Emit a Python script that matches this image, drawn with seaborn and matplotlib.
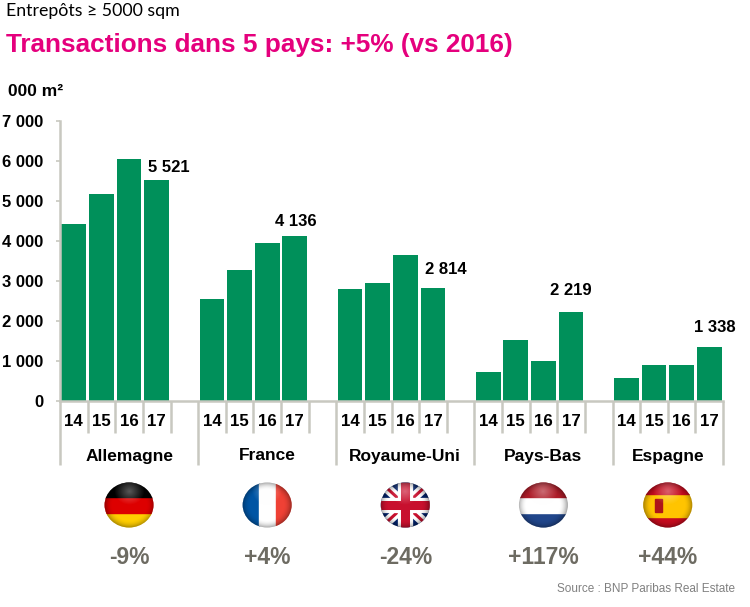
import matplotlib
matplotlib.use("Agg")
import numpy as np
import pandas as pd
import seaborn as sns
import matplotlib.pyplot as plt
from matplotlib.patches import Rectangle, Ellipse

# ---------------- data ----------------
countries = ["Allemagne", "France", "Royaume-Uni", "Pays-Bas", "Espagne"]
years = ["14", "15", "16", "17"]
allemagne = [4420, 5170, 6050, 5521]
france = [2560, 3270, 3940, 4136]
royaume_uni = [2800, 2940, 3660, 2814]
pays_bas = [720, 1530, 990, 2219]
espagne = [580, 890, 890, 1338]
value_labels = ["5 521", "4 136", "2 814", "2 219", "1 338"]
changes = ["-9%", "+4%", "-24%", "+117%", "+44%"]
ytick_values = [0, 1000, 2000, 3000, 4000, 5000, 6000, 7000]

series = [allemagne, france, royaume_uni, pays_bas, espagne]

# ---------------- style ----------------
GREEN = "#00905A"
GREY_LINE = "#C8C8C0"
PINK = "#E5007D"
PCT_GREY = "#6D6B62"

sns.set_theme(style="white")
plt.rcParams['font.family'] = ['Liberation Sans', 'DejaVu Sans']

W, H = 750, 607
fig = plt.figure(figsize=(W / 100, H / 100), dpi=100)
fig.patch.set_facecolor("white")

def fy(py):
    return 1 - py / H

ax = fig.add_axes([60 / W, 1 - 401 / H, (723 - 60) / W, 280 / H])

rows = []
for gi, (c, vals) in enumerate(zip(countries, series)):
    for yi, (yr, v) in enumerate(zip(years, vals)):
        rows.append({"country": c, "year": yr, "value": v, "pos": gi * 5 + yi})
df = pd.DataFrame(rows)

sns.barplot(data=df, x="pos", y="value", native_scale=True, width=0.9,
            color=GREEN, saturation=1, errorbar=None, edgecolor="none",
            linewidth=0, ax=ax)

ax.set_xlim(-0.5, 23.5)
ax.set_ylim(0, 7000)
ax.set_xticks([])
ax.set_yticks(ytick_values)
ax.set_yticklabels([f"{v:,}".replace(",", " ") for v in ytick_values])
ax.tick_params(axis="y", labelsize=12, length=3, width=1.2, color=GREY_LINE,
               pad=9, left=True, labelcolor="black")
for lbl in ax.get_yticklabels():
    lbl.set_fontweight("bold")
ax.set_xlabel("")
ax.set_ylabel("")
for s in ["top", "right"]:
    ax.spines[s].set_visible(False)
for s in ["left", "bottom"]:
    ax.spines[s].set_color(GREY_LINE)
    ax.spines[s].set_linewidth(1.8)

xt = ax.get_xaxis_transform()
SHORT = -32 / 280
LONG = -64 / 280

# group spans
spans = []
for gi in range(len(countries)):
    left = gi * 5 - 0.5
    right = min(gi * 5 + 4.5, 23.5)
    spans.append((left, right))
bounds = sorted(set([b for s in spans for b in s]))

for k in range(25):
    xb = k - 0.5
    yb = LONG if xb in bounds else SHORT
    ax.plot([xb, xb], [0, yb], transform=xt, color=GREY_LINE, lw=1.8,
            clip_on=False, solid_capstyle="butt")

# year labels
for _, r in df.iterrows():
    ax.text(r["pos"], -21 / 280, r["year"], transform=xt, ha="center",
            va="center", fontsize=12.2, fontweight="bold", color="black")

# group labels
centers = [(l + r) / 2 for l, r in spans]
for c, cx in zip(countries, centers):
    ax.text(cx, -55 / 280, c, transform=xt, ha="center", va="center",
            fontsize=12.5, fontweight="bold", color="black")

# value labels on last bar
label_offsets = [(12, 13), (1, 14), (13, 19), (0, 22), (6, 20)]
for gi, (vals, txt) in enumerate(zip(series, value_labels)):
    ax.annotate(txt, xy=(gi * 5 + 3, vals[-1]), xytext=label_offsets[gi],
                textcoords="offset pixels", ha="center", va="center",
                fontsize=12, fontweight="bold", color="black",
                annotation_clip=False)

# percent labels
for cx, t in zip(centers, changes):
    ax.text(cx, -156 / 280, t, transform=xt, ha="center", va="center",
            fontsize=16.5, fontweight="bold", color=PCT_GREY,
            family=["Liberation Sans Narrow", "Liberation Sans", "DejaVu Sans"])

# ---------------- flags ----------------
def to_px(cx):
    return 60 + (cx + 0.5) * (663 / 24)

def draw_flag(name, cxp, cyp, w=50, h=46):
    fa = fig.add_axes([(cxp - w / 2) / W, 1 - (cyp + h / 2) / H, w / W, h / H])
    fa.set_xlim(0, 1)
    fa.set_ylim(0, 1)
    fa.axis("off")
    clip = Ellipse((0.5, 0.5), 0.98, 0.98, transform=fa.transData)
    arts = []
    if name == "Allemagne":
        for i, col in enumerate(["#FFCE00", "#DD0000", "#000000"]):
            arts.append(fa.add_patch(Rectangle((0, i / 3), 1, 1 / 3, color=col)))
    elif name == "France":
        for i, col in enumerate(["#0055A4", "#FFFFFF", "#EF4135"]):
            arts.append(fa.add_patch(Rectangle((i / 3, 0), 1 / 3, 1, color=col)))
    elif name == "Pays-Bas":
        for i, col in enumerate(["#21468B", "#FFFFFF", "#AE1C28"]):
            arts.append(fa.add_patch(Rectangle((0, i / 3), 1, 1 / 3, color=col)))
    elif name == "Espagne":
        arts.append(fa.add_patch(Rectangle((0, 0), 1, 0.25, color="#C60B1E")))
        arts.append(fa.add_patch(Rectangle((0, 0.25), 1, 0.5, color="#FFC400")))
        arts.append(fa.add_patch(Rectangle((0, 0.75), 1, 0.25, color="#C60B1E")))
        arts.append(fa.add_patch(Rectangle((0.24, 0.35), 0.14, 0.28, color="#AD1519")))
    else:
        arts.append(fa.add_patch(Rectangle((0, 0), 1, 1, color="#012169")))
        for (x0, y0, x1, y1) in [(0, 0, 1, 1), (0, 1, 1, 0)]:
            arts += fa.plot([x0, x1], [y0, y1], color="white", lw=7, solid_capstyle="butt")
            arts += fa.plot([x0, x1], [y0, y1], color="#C8102E", lw=2.2, solid_capstyle="butt")
        arts += fa.plot([0.5, 0.5], [0, 1], color="white", lw=11, solid_capstyle="butt")
        arts += fa.plot([0, 1], [0.5, 0.5], color="white", lw=11, solid_capstyle="butt")
        arts += fa.plot([0.5, 0.5], [0, 1], color="#C8102E", lw=6.5, solid_capstyle="butt")
        arts += fa.plot([0, 1], [0.5, 0.5], color="#C8102E", lw=6.5, solid_capstyle="butt")
    # glossy shading
    n = 80
    gx, gy = np.meshgrid(np.linspace(0, 1, n), np.linspace(1, 0, n))
    rr = np.sqrt((gx - 0.5) ** 2 + (gy - 0.5) ** 2) / 0.5
    shade = np.zeros((n, n, 4))
    dark = np.clip((rr - 0.65) / 0.35, 0, 1) ** 2 * 0.35
    hl = np.clip(1 - np.sqrt((gx - 0.5) ** 2 + (gy - 0.8) ** 2) / 0.3, 0, 1) * 0.35
    shade[..., :3] = (hl / (hl + dark + 1e-6))[..., None]
    shade[..., 3] = np.clip(hl + dark, 0, 1)
    im = fa.imshow(shade, extent=(0, 1, 0, 1), aspect="auto", zorder=10)
    arts.append(im)
    for a in arts:
        a.set_clip_path(clip)

for c, cx in zip(countries, centers):
    draw_flag(c, to_px(cx), 505)

# ---------------- texts ----------------
fig.text(6 / W, fy(11), "Entrepôts ≥ 5000 sqm", fontsize=12.8, color="black",
         ha="left", va="center", family=["Lato", "DejaVu Sans"])
fig.text(6 / W, fy(45), "Transactions dans 5 pays: +5% (vs 2016)", fontsize=18.8,
         fontweight="bold", color=PINK, ha="left", va="center")
fig.text(8 / W, fy(92), "000 m²", fontsize=12.5, fontweight="bold", color="black",
         ha="left", va="center")
fig.text(735 / W, fy(589), "Source : BNP Paribas Real Estate", fontsize=8.5,
         color="#808080", ha="right", va="center",
         family=["Liberation Sans Narrow", "Liberation Sans", "DejaVu Sans"])

fig.savefig("out.png", dpi=100)
